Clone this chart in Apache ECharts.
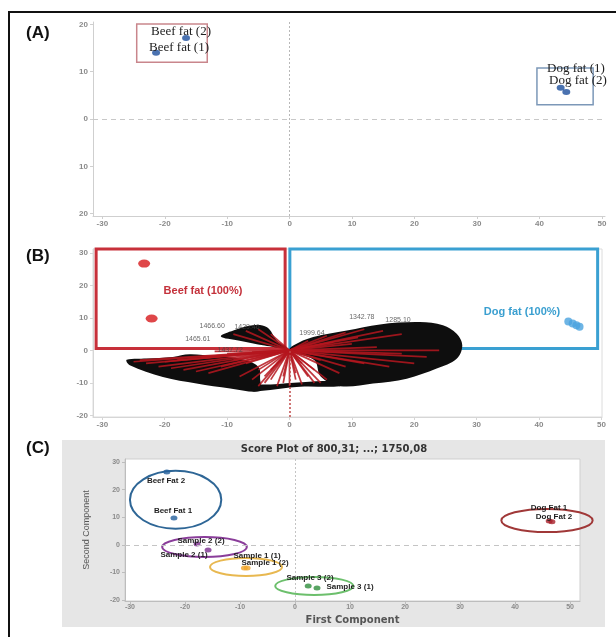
<!DOCTYPE html>
<html>
<head>
<meta charset="utf-8">
<title>PCA score plots</title>
<script src="https://cdn.jsdelivr.net/npm/echarts@6.0.0/dist/echarts.min.js"></script>
<style>
html,body{margin:0;padding:0;background:#fff;}
#main{width:616px;height:637px;}
</style>
</head>
<body>
<div id="main"></div>
<script>
// tick values shared by the panels
var ticksX = [-30,-20,-10,0,10,20,30,40,50];
var ticksYA = [-20,-10,0,10,20];
var ticksYB = [-20,-10,0,10,20,30];
var ticksYC = [-20,-10,0,10,20,30];

// (A) score plot
var namesA = ['Beef fat (2)','Beef fat (1)','Dog fat (1)','Dog fat (2)'];
var xA = [-16.6,-21.4,43.4,44.3];
var yA = [17.1,14.0,6.6,5.7];
var boxBeefA = [[-24.5,12.0],[-13.2,20.1]];
var boxDogA = [[39.6,3.0],[48.6,10.8]];

// (B) biplot
var beefB = [[-23.3,26.7],[-22.1,9.8]];
var dogB = [[44.7,8.9],[45.4,8.3],[46.0,7.7],[46.5,7.3]];
var boxBeefB = [[-31,0.6],[-0.7,31.2]];
var boxDogB = [[0.06,0.6],[49.4,31.2]];
// outlines of the crowded loading labels (black clouds)
var cloudRight = [[0,0],[0.6,1.5],[3.8,4.1],[9.2,6.1],[14.5,8.0],[20.9,8.7],[24.6,7.7],[26.8,5.1],[27.7,1.5],[26.8,-2.6],[23.6,-5.6],[18.8,-8.7],[13.4,-10.2],[8.1,-11],[5,-8],[4,-3]];
var cloudLeft = [[-26.1,-2.9],[-22.9,-2.5],[-18.7,-2.0],[-16,-1.2],[-12,-1.8],[-8,-2.5],[-5,-5],[-4.7,-9],[-4.7,-12.5],[-9.5,-11.7],[-14.9,-10.2],[-20.3,-8.2],[-25.6,-4.6]];
var cloudBottom = [[-6,-12.5],[-4.7,-12.5],[1.7,-11.2],[8.1,-11],[8,-9.5],[2,-9.8],[-3,-10.5],[-6,-10.8]];
var cloudUpper = [[-11,4.3],[-9,6.1],[-5.9,7.7],[-3.6,7.1],[-2,3],[-0.5,0.8],[-4,1.5],[-8,3]];
// loading vector end points
var loadEnds = [[-25,-3.5],[-23,-4],[-21,-5],[-19,-5.5],[-17,-6],[-15,-6.5],[-13,-7],[-11,-5],[-9,-3],[-14,-2],[-18,-3],
  [-8,-8],[-6,-9],[-4,-10],[-2,-11],[0,-11],[2,-10.5],[4,-10],[-10,-1],[-6,-0.5],[-12,-0.3],[-3,-6],[-1,-8],[1,-7],
  [-5,-6],[-4,-8],[-3,-9],[-1,-10],[1,-9],[3,-8],[4,-6],[2,-4],[-2,-4],[5,-10],[-5,-11],[-7,-4],[-20,-3.5],[-24,-3],
  [-9,5],[-7,6],[-5,6.5],[-3,5],
  [3,3],[6,4.5],[9,5.5],[12,6.5],[15,6],[18,5],[10,2],[14,1],[18,-1],[22,-2],[12,-4],[16,-5],[8,-7],[6,-9],[20,-4],[24,0],
  [7,2.5],[11,4],[5,-3],[9,-5]];
var loadNames = ['1466.60','1465.61','1429.46','1437.72','1342.78','1285.10','1999.64'];
var loadLabelPts = [[-12.4,7.4],[-14.7,3.4],[-6.8,7.2],[-9.5,0.2],[11.6,10.4],[17.4,9.2],[3.6,5.2]];

// (C) score plot with confidence ellipses
var groupsC = ['Beef Fat','Sample 2','Sample 1','Sample 3','Dog Fat'];
var scoreC = [
  [[-23.3,26.4],[-22.0,9.7]],
  [[-17.8,0.3],[-15.8,-1.9]],
  [[-9.2,-8.4],[-8.7,-8.4]],
  [[2.4,-15.0],[4.0,-15.7]],
  [[46.2,8.6],[46.7,8.3]]
];
// cx, cy, rx, ry
var ellipseC = [[-21.7,16.3,8.3,10.5],[-16.45,-0.8,7.7,3.6],[-8.9,-8.05,6.55,3.25],[3.5,-14.95,7.1,3.25],[45.8,8.8,8.3,4.2]];
var colorsC = ['#24609c','#7b2d8e','#f0a52a','#2f8f3d','#a8202a'];
var ringColorsC = ['#2e6696','#8a3d9a','#e8b850','#6cbf6c','#a03838'];

var tickFont = {fontSize:8, fontWeight:'bold', color:'#8a8a8a', fontFamily:'Liberation Sans'};

function labelStyle(o){
	var r = {};
	for(var k in tickFont){ r[k]=tickFont[k]; }
	for(var j in o){ r[j]=o[j]; }
	return r;
}

function xAxisOf(grid, min, max, lineColor){
	return {
		gridIndex:grid, type:'value', min:min, max:max,
		axisLine:{show:true, onZero:false, lineStyle:{color:lineColor}},
		axisTick:{show:true, length:3, customValues:ticksX, lineStyle:{color:lineColor}},
		axisLabel:labelStyle({margin:4, customValues:ticksX}),
		splitLine:{show:false}
	};
}

function yAxisOf(grid, min, max, ticks, lineColor, fmt){
	return {
		gridIndex:grid, type:'value', min:min, max:max,
		axisLine:{show:true, onZero:false, lineStyle:{color:lineColor}},
		axisTick:{show:true, length:3, customValues:ticks, lineStyle:{color:lineColor}},
		axisLabel:labelStyle({margin:5, customValues:ticks, formatter:fmt}),
		splitLine:{show:false}
	};
}

function pairs(xs, ys){
	return xs.map(function(x, i){ return [x, ys[i]]; });
}

function cloudSeries(pts){
	return {
		type:'custom', xAxisIndex:1, yAxisIndex:1, z:1, silent:true,
		data:[[0,0]],
		renderItem:function(params, api){
			var p = pts.map(function(d){ return api.coord(d); });
			return {type:'polygon', shape:{points:p, smooth:0.35}, style:{fill:'#0e0e0e'}};
		}
	};
}

var chart = echarts.init(document.getElementById('main'));

var series = [];
// (A)
series.push({
	type:'scatter', xAxisIndex:0, yAxisIndex:0,
	data:pairs(xA, yA), symbol:'circle', symbolSize:[8,6],
	itemStyle:{color:'#1d4f9c'},
	markLine:{
		silent:true, symbol:'none', label:{show:false},
		data:[
			{yAxis:0, lineStyle:{color:'#c8c8c8', type:[5,4], width:1}},
			{xAxis:0, lineStyle:{color:'#b8b8b8', type:[2,2], width:1}}
		]
	},
	markArea:{
		silent:true,
		data:[
			[{coord:boxBeefA[0], itemStyle:{color:'rgba(0,0,0,0)', borderColor:'#c9868c', borderWidth:1.5}}, {coord:boxBeefA[1]}],
			[{coord:boxDogA[0], itemStyle:{color:'rgba(0,0,0,0)', borderColor:'#7c98b8', borderWidth:1.5}}, {coord:boxDogA[1]}]
		]
	}
});
// (B) label clouds
series.push(cloudSeries(cloudRight));
series.push(cloudSeries(cloudLeft));
series.push(cloudSeries(cloudBottom));
series.push(cloudSeries(cloudUpper));
// (B) loading vectors from the origin
series.push({
	type:'custom', xAxisIndex:1, yAxisIndex:1, z:2, silent:true,
	data:loadEnds,
	renderItem:function(params, api){
		var o = api.coord([0,0]);
		var e = api.coord([api.value(0), api.value(1)]);
		return {type:'line', shape:{x1:o[0], y1:o[1], x2:e[0], y2:e[1]}, style:{stroke:'#b5161e', lineWidth:1.7, opacity:0.85}};
	}
});
// (B) a few readable loading labels
series.push({
	type:'scatter', xAxisIndex:1, yAxisIndex:1, z:3, symbolSize:0,
	data:loadLabelPts.map(function(p, i){ return {name:loadNames[i], value:p}; }),
	label:{show:true, position:'inside', formatter:'{b}', fontSize:7, color:'#444', fontFamily:'Liberation Sans'}
});
// (B) beef fat scores + boxes
series.push({
	type:'scatter', xAxisIndex:1, yAxisIndex:1, z:5,
	data:beefB, symbol:'circle', symbolSize:[12,8],
	itemStyle:{color:'#d7191c'},
	markLine:{
		silent:true, symbol:'none', label:{show:false},
		data:[[{coord:[0,-20.5], lineStyle:{color:'#c04a4a', type:[2,2], width:1.5}}, {coord:[0,0]}]]
	},
	markArea:{
		silent:true,
		data:[
			[{coord:boxBeefB[0], itemStyle:{color:'rgba(0,0,0,0)', borderColor:'#c7303a', borderWidth:3}}, {coord:boxBeefB[1]}],
			[{coord:boxDogB[0], itemStyle:{color:'rgba(0,0,0,0)', borderColor:'#3aa0d2', borderWidth:3}}, {coord:boxDogB[1]}]
		]
	}
});
series.push({
	type:'scatter', xAxisIndex:1, yAxisIndex:1, z:5,
	data:dogB, symbol:'circle', symbolSize:8,
	itemStyle:{color:'#4aa3df'}
});
// (C) ellipses
series.push({
	type:'custom', xAxisIndex:2, yAxisIndex:2, z:2, silent:true,
	data:ellipseC,
	renderItem:function(params, api){
		var c = api.coord([api.value(0), api.value(1)]);
		var s = api.size([api.value(2), api.value(3)]);
		return {type:'ellipse', shape:{cx:c[0], cy:c[1], rx:s[0], ry:s[1]},
			style:{fill:'none', stroke:ringColorsC[params.dataIndex], lineWidth:2}};
	}
});
groupsC.forEach(function(g, i){
	var s = {
		type:'scatter', name:g, xAxisIndex:2, yAxisIndex:2, z:3,
		data:scoreC[i], symbol:'circle', symbolSize:[7,5],
		itemStyle:{color:colorsC[i]}
	};
	if(i===0){
		s.markLine = {
			silent:true, symbol:'none', label:{show:false},
			data:[
				{yAxis:0, lineStyle:{color:'#c4c4c4', type:[5,4], width:1}},
				{xAxis:0, lineStyle:{color:'#c4c4c4', type:[2,2], width:1}}
			]
		};
	}
	series.push(s);
});

function txt(x, y, text, style, extra){
	var st = {text:text, x:x, y:y, align:'center', verticalAlign:'middle'};
	for(var k in style){ st[k]=style[k]; }
	var el = {type:'text', z:100, style:st};
	for(var j in extra){ el[j]=extra[j]; }
	return el;
}
var serifLab = {font:'13px "Liberation Serif"', fill:'#222'};
var cLab = {font:'bold 8px "Liberation Sans"', fill:'#1e1e1e'};
var panelLab = {font:'bold 17px "Liberation Sans"', fill:'#111', align:'left'};

var graphics = [
	{type:'rect', z:-10, shape:{x:9, y:12, width:640, height:660}, style:{fill:'none', stroke:'#111', lineWidth:2}},
	{type:'rect', z:-10, shape:{x:62, y:440, width:543, height:187}, style:{fill:'#e6e6e6'}},
	{type:'rect', z:-9, shape:{x:125, y:459, width:455, height:142}, style:{fill:'#fff', stroke:'#cfcfcf', lineWidth:1}},
	txt(26, 33, '(A)', panelLab),
	txt(26, 256, '(B)', panelLab),
	txt(26, 448, '(C)', panelLab),
	txt(181, 32, namesA[0], serifLab),
	txt(179, 48, namesA[1], serifLab),
	txt(576, 69, namesA[2], serifLab),
	txt(578, 81, namesA[3], serifLab),
	txt(203, 291, 'Beef fat (100%)', {font:'bold 11px "Liberation Sans"', fill:'#c4313b'}),
	txt(522, 312, 'Dog fat (100%)', {font:'bold 11px "Liberation Sans"', fill:'#3a9fd0'}),
	txt(334, 449, 'Score Plot of 800,31; ...; 1750,08', {font:'bold 10px "DejaVu Sans"', fill:'#333'}),
	txt(166, 481, 'Beef Fat 2', cLab),
	txt(173, 511, 'Beef Fat 1', cLab),
	txt(201, 541, 'Sample 2 (2)', cLab),
	txt(184, 555, 'Sample 2 (1)', cLab),
	txt(257, 556, 'Sample 1 (1)', cLab),
	txt(265, 563, 'Sample 1 (2)', cLab),
	txt(310, 578, 'Sample 3 (2)', cLab),
	txt(350, 587, 'Sample 3 (1)', cLab),
	txt(549, 508, 'Dog Fat 1', cLab),
	txt(554, 517, 'Dog Fat 2', cLab)
];

var yC = yAxisOf(2, -20.4, 31.1, ticksYC, '#bdbdbd');
yC.name = 'Second Component';
yC.nameLocation = 'middle';
yC.nameGap = 34;
yC.nameTextStyle = {fontSize:9, color:'#555', fontFamily:'Liberation Sans'};
var xC = xAxisOf(2, -30.9, 51.8, '#bdbdbd');
xC.name = 'First Component';
xC.nameLocation = 'middle';
xC.nameGap = 14;
xC.nameTextStyle = {fontSize:10, fontWeight:'bold', color:'#555', fontFamily:'DejaVu Sans'};
xC.axisLabel.fontSize = 7;
yC.axisLabel.fontSize = 7;
xC.axisLabel.margin = 3;

chart.setOption({
	animation:false,
	backgroundColor:'#fff',
	grid:[
		{left:93, top:22, width:512, height:194},
		{left:93, top:249, width:509, height:168, show:true, borderColor:'#dcdcdc', borderWidth:1},
		{left:125, top:459, width:455, height:142}
	],
	xAxis:[
		xAxisOf(0, -31.5, 50.5, '#cfcfcf'),
		xAxisOf(1, -31.5, 50.1, '#d6d6d6'),
		xC
	],
	yAxis:[
		yAxisOf(0, -20.5, 20.5, ticksYA, '#cfcfcf', function(v){ return String(Math.abs(v)); }),
		yAxisOf(1, -20.5, 31.2, ticksYB, '#d6d6d6'),
		yC
	],
	graphic:{elements:graphics},
	series:series
});
</script>
</body>
</html>
